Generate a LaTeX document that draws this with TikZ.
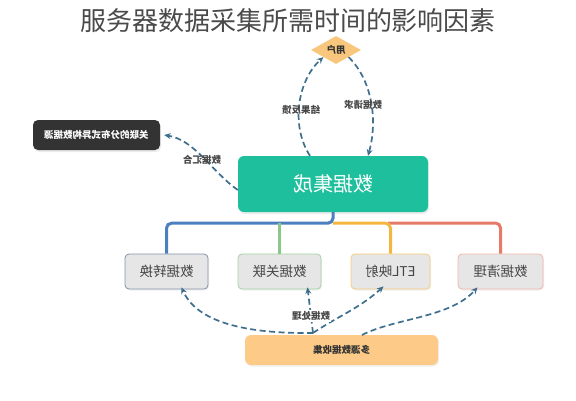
\documentclass[tikz,border=0pt]{standalone}
\usepackage{fontspec}
\usepackage{graphicx}
\newfontfamily\cjk{Noto Sans CJK SC}
\usetikzlibrary{shapes.geometric,arrows.meta,shadows,calc}
\definecolor{arrowc}{HTML}{3E6F8E}
\definecolor{tealc}{HTML}{1EBF9C}
\definecolor{darkc}{HTML}{333333}
\definecolor{titlec}{HTML}{4A4A4A}
\definecolor{blueL}{HTML}{4C7FC0}
\definecolor{greenL}{HTML}{8CC78A}
\definecolor{orangeL}{HTML}{F4B63F}
\definecolor{redL}{HTML}{E57A66}
\definecolor{boxfill}{HTML}{E6E6E6}
\definecolor{srcfill}{HTML}{FDCB87}
\definecolor{diafill}{HTML}{F8C77D}
\newcommand{\mt}[1]{\reflectbox{#1}}
\tikzset{
  flow/.style={draw=arrowc, line width=1.7pt, dash pattern=on 6pt off 3.5pt, -{Stealth[length=6.5pt,width=6pt]}},
  lbl/.style={font=\cjk\fontsize{9.5}{9.5}\selectfont\bfseries, text=darkc!90},
  leaf/.style={draw, line width=0.8pt, fill=boxfill, rounded corners=4pt, minimum height=35pt, font=\cjk\fontsize{13.5}{13.5}\selectfont, text=darkc!90, drop shadow={opacity=0.12, shadow xshift=1pt, shadow yshift=-1.5pt}},
  tree/.style={line width=3pt, rounded corners=5pt},
}
\begin{document}
\begin{tikzpicture}[x=1pt,y=-1pt]
\useasboundingbox (0,0) rectangle (576,400);
% title
\node (title) at (288,21) {\cjk\fontsize{26}{26}\selectfont\color{titlec}服务器数据采集所需时间的影响因素};
% diamond
\node[diamond, fill=diafill, minimum width=50pt, minimum height=28pt, inner sep=0pt, aspect=1.8] (user) at (336,50) {\mt{\cjk\fontsize{9.5}{9.5}\selectfont\bfseries\color{darkc}用户}};
% integration
\node[fill=tealc, rounded corners=6pt, minimum width=190pt, minimum height=56pt, text=white, font=\cjk\fontsize{20}{20}\selectfont, drop shadow={opacity=0.15, shadow xshift=1pt, shadow yshift=-2pt}] (integ) at (333,184) {\mt{数据集成}};
% dark source box
\node[fill=darkc, rounded corners=5pt, minimum width=127pt, minimum height=30pt, text=white, font=\cjk\fontsize{9.5}{9.5}\selectfont\bfseries, drop shadow={opacity=0.15, shadow xshift=1pt, shadow yshift=-2pt}] (dsrc) at (96.5,135) {\mt{关联的分布式异构数据源}};
% leaf boxes
\node[leaf, draw=blueL!45!boxfill!80!black, minimum width=83pt] (b1) at (166.5,271.5) {\mt{数据转换}};
\node[leaf, draw=greenL!80, minimum width=83pt] (b2) at (279.5,271.5) {\mt{数据关联}};
\node[leaf, draw=orangeL!70, minimum width=79pt] (b3) at (390.5,271.5) {\mt{ETL映射}};
\node[leaf, draw=redL!55, minimum width=85pt] (b4) at (500.5,271.5) {\mt{数据清理}};
% bottom source
\node[fill=srcfill, rounded corners=6pt, minimum width=193pt, minimum height=30pt, font=\cjk\fontsize{9.5}{9.5}\selectfont\bfseries, text=darkc, drop shadow={opacity=0.12, shadow xshift=1pt, shadow yshift=-1.5pt}] (msrc) at (341.5,350) {\mt{多源数据收集}};
% tree
\coordinate (tc) at (integ.south);
\coordinate (tj) at ($(tc)+(0,11)$);
\draw[tree, draw=blueL] (tc) -- (tj) -| (b1.north);
\draw[tree, draw=greenL, rounded corners=0pt] (b2.north |- tj) -- (b2.north);
\draw[tree, draw=redL] (388,223) -| (b4.north);
\draw[tree, draw=orangeL] (tj) -| (b3.north);
% top arrows
\draw[flow] ([xshift=-23pt]integ.north) .. controls (290,125) and (298,80) .. (user.south west);
\node[lbl] (l1) at (301,110) {\mt{结果反馈}};
\draw[flow] (user.south east) .. controls (372,80) and (378,120) .. ([xshift=35pt]integ.north);
\node[lbl] (l2) at (363,105) {\mt{数据请求}};
% left arrow
\draw[flow] ([yshift=-6pt]integ.west) .. controls (212,172) and (195,140) .. ([xshift=4pt]dsrc.east);
\node[lbl] (l3) at (202,160) {\mt{数据汇合}};
% bottom arrows
\coordinate (v) at (313,333);
\coordinate (w) at (362,335);
\draw[flow] (v) .. controls (235,334) and (195,318) .. ([xshift=15pt,yshift=2pt]b1.south);
\draw[flow] (v) -- ([xshift=28pt,yshift=2pt]b2.south);
\draw[flow] (v) .. controls (335,318) and (360,308) .. ([xshift=-7pt,yshift=3pt]b3.south);
\draw[flow] (w) .. controls (395,318) and (450,318) .. ([xshift=-23pt,yshift=2pt]b4.south);
\node[lbl, fill=white, inner sep=1pt] (l4) at (311,316) {\mt{数据处理}};
\end{tikzpicture}
\end{document}
